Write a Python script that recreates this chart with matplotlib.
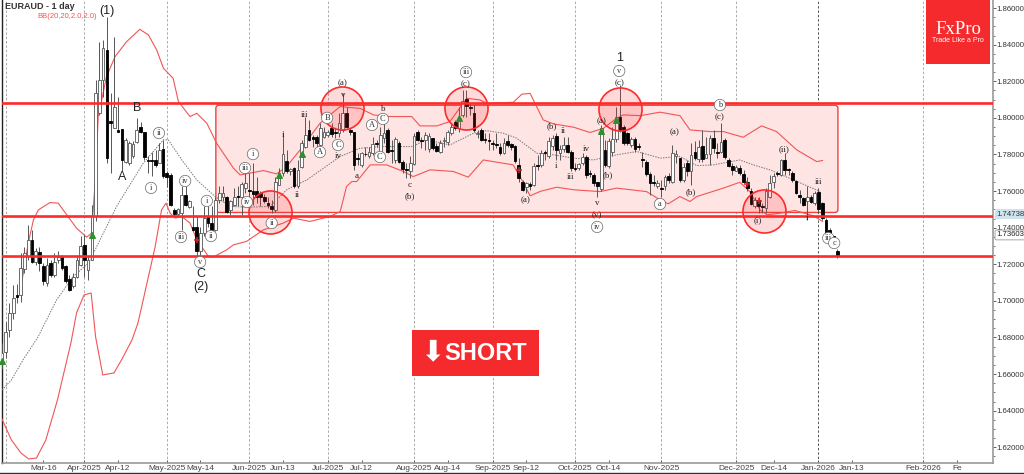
import matplotlib
matplotlib.use('Agg')
import matplotlib.pyplot as plt
from matplotlib.patches import FancyBboxPatch, Rectangle
from matplotlib.ticker import MultipleLocator, FixedLocator, FuncFormatter

# daily candles, EURAUD
bar_open = [
    1.6666,1.6722,1.684,1.6933,1.7032,1.7033,1.7173,1.7243,1.7334,1.7215,
    1.7266,1.7193,1.7097,1.7206,1.7143,1.7224,1.7243,1.7188,1.7119,1.7079,
    1.7133,1.7197,1.7306,1.717,1.7224,1.7461,1.8025,1.8207,1.8371,1.7985,
    1.7943,1.7934,1.7938,1.7761,1.7752,1.7789,1.787,1.7952,1.7921,1.777,
    1.7766,1.777,1.7752,1.783,1.7698,1.7689,1.7497,1.7475,1.7479,1.7579,
    1.7512,1.7401,1.7403,1.727,1.737,1.7461,1.7428,1.7388,1.7552,1.757,
    1.7567,1.7497,1.7525,1.7574,1.757,1.7616,1.7607,1.7598,1.7598,1.7588,
    1.757,1.7534,1.7521,1.7497,1.7634,1.7698,1.7765,1.7707,1.7725,1.7625,
    1.7734,1.7843,1.7934,1.7893,1.7898,1.7852,1.7898,1.7907,1.7943,1.7925,
    1.7916,1.7934,1.8025,1.7934,1.792,1.778,1.7743,1.7805,1.7789,1.7807,
    1.7864,1.7816,1.7889,1.7934,1.7824,1.777,1.7861,1.7761,1.7718,1.7712,
    1.7749,1.792,1.7878,1.788,1.7829,1.7889,1.7847,1.7816,1.7874,1.787,
    1.7916,1.798,1.7943,1.8016,1.8102,1.8062,1.8025,1.7914,1.7934,1.7884,
    1.7877,1.786,1.7854,1.7843,1.7807,1.7876,1.7856,1.7847,1.7743,1.7647,
    1.7621,1.7636,1.7634,1.774,1.7743,1.7808,1.7789,1.7847,1.7901,1.7807,
    1.7829,1.7852,1.7816,1.7726,1.7725,1.7756,1.7785,1.7695,1.7689,1.7647,
    1.761,1.7825,1.7738,1.7816,1.7883,1.8002,1.7949,1.7916,1.7852,1.7883,
    1.7843,1.777,1.7761,1.7694,1.7647,1.7625,1.7611,1.7625,1.7683,1.7652,
    1.7792,1.778,1.7661,1.7752,1.7707,1.7816,1.7774,1.7847,1.778,1.7803,
    1.7889,1.7809,1.7816,1.788,1.777,1.7738,1.7712,1.7725,1.7694,1.7652,
    1.7603,1.7519,1.7552,1.7514,1.7507,1.757,1.7647,1.7698,1.7688,1.777,
    1.7717,1.7698,1.7657,1.7579,1.7561,1.7543,1.7567,1.7534,1.7597,1.7534,
    1.7443,1.7388,1.7352,1.727]
bar_close = [
    1.6715,1.6831,1.6933,1.7015,1.7021,1.7179,1.7261,1.7334,1.7215,1.727,
    1.7206,1.7106,1.7197,1.7143,1.7215,1.7237,1.7179,1.7106,1.7061,1.7133,
    1.7224,1.7301,1.7224,1.7224,1.7461,1.8138,1.8207,1.838,1.7779,1.797,
    1.8062,1.7925,1.7767,1.788,1.7861,1.7858,1.7934,1.792,1.7785,1.7763,
    1.7762,1.774,1.7825,1.768,1.7676,1.7525,1.7475,1.7501,1.7576,1.7525,
    1.7543,1.7388,1.727,1.737,1.7452,1.7428,1.7388,1.7552,1.7588,1.7592,
    1.7488,1.7543,1.757,1.7567,1.7639,1.7643,1.7598,1.7585,1.757,1.757,
    1.7547,1.7525,1.7501,1.7652,1.7698,1.7803,1.7707,1.772,1.7625,1.7716,
    1.7861,1.7907,1.788,1.7885,1.7861,1.7943,1.7925,1.7925,1.791,1.7916,
    1.797,1.8025,1.7949,1.792,1.7743,1.7775,1.7807,1.78,1.7816,1.7858,
    1.7858,1.7907,1.7916,1.7816,1.7818,1.7883,1.7761,1.772,1.7714,1.7752,
    1.7901,1.788,1.7874,1.7907,1.7901,1.7834,1.7821,1.7865,1.7878,1.7925,
    1.7949,1.7943,1.8007,1.8094,1.8065,1.8053,1.7934,1.7918,1.788,1.788,
    1.7874,1.7857,1.785,1.7807,1.7865,1.7852,1.7838,1.7765,1.767,1.7607,
    1.7643,1.763,1.7738,1.7736,1.781,1.7806,1.7876,1.7889,1.7825,1.7829,
    1.7852,1.7816,1.7725,1.7723,1.7749,1.7788,1.7689,1.7691,1.7643,1.7625,
    1.7943,1.7743,1.7876,1.7883,1.8007,1.7934,1.7861,1.7861,1.7883,1.7829,
    1.7841,1.7768,1.7694,1.7643,1.7645,1.7643,1.7609,1.7679,1.7658,1.7807,
    1.7803,1.7661,1.7734,1.7707,1.7798,1.778,1.7843,1.7774,1.7803,1.7889,
    1.7834,1.7807,1.787,1.7785,1.7738,1.7716,1.7729,1.7698,1.7652,1.7616,
    1.753,1.7552,1.7519,1.7512,1.7601,1.7643,1.7683,1.7695,1.7767,1.7716,
    1.7714,1.7661,1.7588,1.7567,1.7525,1.757,1.7539,1.7588,1.7503,1.7452,
    1.737,1.7352,1.7325,1.7246]
bar_high = [
    1.677,1.6886,1.699,1.7087,1.709,1.726,1.7297,1.7416,1.7388,1.7288,
    1.7297,1.7206,1.7234,1.7224,1.7261,1.727,1.7252,1.7197,1.7143,1.7152,
    1.7243,1.7352,1.7361,1.7243,1.7525,1.8207,1.8417,1.8426,1.8553,1.8134,
    1.8444,1.8116,1.7938,1.7889,1.7871,1.7871,1.7998,1.798,1.7925,1.7789,
    1.7816,1.7825,1.7861,1.788,1.7707,1.7698,1.7507,1.7507,1.7625,1.7625,
    1.7552,1.7516,1.7461,1.7406,1.7516,1.7516,1.7516,1.757,1.7625,1.7625,
    1.7574,1.7552,1.7616,1.7625,1.7652,1.7752,1.7698,1.7752,1.7679,1.7598,
    1.7585,1.757,1.7552,1.7679,1.7725,1.7925,1.7825,1.7725,1.7734,1.777,
    1.788,1.8007,1.7989,1.7907,1.7907,1.797,1.7952,1.7934,1.797,1.7943,
    1.8025,1.8134,1.8062,1.7943,1.7925,1.7807,1.7816,1.7843,1.7843,1.7898,
    1.788,1.7952,1.8,1.7943,1.788,1.7898,1.7871,1.777,1.7752,1.7789,
    1.7916,1.7934,1.7898,1.7925,1.7916,1.7889,1.7861,1.788,1.7898,1.7934,
    1.797,1.7989,1.8062,1.8153,1.8153,1.808,1.8071,1.7934,1.7943,1.7916,
    1.7916,1.788,1.7916,1.7861,1.7889,1.7907,1.7861,1.7852,1.778,1.7661,
    1.7652,1.7652,1.7752,1.7798,1.7825,1.7825,1.7898,1.7907,1.7916,1.7852,
    1.7898,1.7898,1.7825,1.7752,1.7756,1.7807,1.7798,1.7716,1.7698,1.7652,
    1.7962,1.788,1.7889,1.7952,1.8062,1.818,1.7961,1.7925,1.7898,1.7898,
    1.7861,1.7816,1.777,1.7702,1.7689,1.7661,1.7661,1.7689,1.7698,1.7852,
    1.7825,1.778,1.7752,1.777,1.7861,1.7871,1.788,1.7934,1.7898,1.7907,
    1.7934,1.7861,1.7974,1.7889,1.778,1.7752,1.7743,1.7743,1.7716,1.7679,
    1.7616,1.757,1.757,1.7534,1.7616,1.7689,1.7698,1.7712,1.7774,1.7807,
    1.7725,1.7707,1.7661,1.7607,1.757,1.7625,1.7579,1.7598,1.7616,1.7538,
    1.7452,1.7397,1.736,1.7283]
bar_low = [
    1.663,1.669,1.68,1.69,1.699,1.6995,1.7152,1.7224,1.7206,1.7197,
    1.7161,1.7088,1.7082,1.7133,1.7133,1.7206,1.717,1.7097,1.7052,1.707,
    1.7124,1.7188,1.7133,1.7115,1.7224,1.7434,1.8016,1.8116,1.7752,1.7698,
    1.7943,1.7925,1.7707,1.7752,1.7743,1.778,1.7861,1.7916,1.777,1.7698,
    1.768,1.7734,1.7752,1.767,1.762,1.7516,1.7461,1.7461,1.7388,1.7516,
    1.7507,1.7379,1.7243,1.7252,1.7352,1.7406,1.7379,1.7379,1.7534,1.7543,
    1.7479,1.747,1.7519,1.7516,1.747,1.7588,1.7552,1.7525,1.7534,1.7516,
    1.7534,1.7507,1.7479,1.7488,1.7634,1.768,1.7698,1.7689,1.7616,1.7616,
    1.7725,1.7834,1.7871,1.7843,1.7843,1.7843,1.7889,1.7898,1.7898,1.7889,
    1.7898,1.7925,1.7943,1.7907,1.7716,1.7743,1.7734,1.7789,1.778,1.7798,
    1.7843,1.7807,1.7861,1.7807,1.7752,1.7752,1.7752,1.7698,1.767,1.767,
    1.7743,1.7871,1.7834,1.7825,1.7816,1.7825,1.7816,1.7807,1.7843,1.7852,
    1.7907,1.7934,1.7925,1.8007,1.8007,1.8016,1.7925,1.7889,1.7871,1.7861,
    1.7825,1.7825,1.7834,1.7798,1.7803,1.7843,1.7825,1.7752,1.7652,1.7598,
    1.7588,1.7607,1.7625,1.7716,1.7734,1.777,1.778,1.7825,1.777,1.777,
    1.7816,1.7807,1.7707,1.7707,1.7716,1.7743,1.767,1.7679,1.7625,1.757,
    1.7603,1.7734,1.7725,1.7789,1.787,1.7925,1.7852,1.7852,1.7843,1.7816,
    1.7825,1.7734,1.768,1.7579,1.7625,1.7616,1.757,1.7607,1.7643,1.7643,
    1.7752,1.7652,1.7652,1.768,1.7634,1.777,1.7761,1.7761,1.778,1.7743,
    1.7807,1.778,1.7807,1.7774,1.773,1.7689,1.7707,1.7689,1.7643,1.7598,
    1.7525,1.7507,1.7479,1.7479,1.7479,1.7561,1.7616,1.7683,1.7683,1.7689,
    1.7689,1.7652,1.7585,1.7534,1.7519,1.7443,1.7534,1.7525,1.7479,1.7443,
    1.7361,1.7343,1.731,1.7233]

upper_x = [4.8,7,8.4,9.7,12.8,15,17.3,19.9,22.6,23.9,24.8,25.7,27.9,30.2,33.3,36.8,39.1,41.3,43.1,45.7,47.1,50.2,52,54.7,57.3,61.8,63.6,66.2,69.8,73.3,76,79.6,84.9,90.3,
           92,95.6,99.2,103.6,109.4,111.6,116.1,119.6,124.1,127.6,129.4,136.5,138.8,141,144.5,147.2,152.6,157,160.6,164.1,165.9,170.4,175.7,181,
           183.7,189,192.6,197.9,202.8,206.8,212.2,217.5,219.1]
upper_y = [1.7042,1.7315,1.7443,1.7497,1.7537,1.7534,1.747,1.7397,1.7348,1.737,1.7625,1.8007,1.8225,1.8335,1.8417,1.8484,1.8453,1.8371,1.8271,1.8216,1.8089,1.8007,1.8025,1.797,1.7861,1.7725,1.7688,1.7698,1.7712,1.7694,1.7734,1.7825,1.797,1.8062,
           1.8058,1.8052,1.8016,1.8007,1.8007,1.7956,1.7956,1.798,1.8107,1.8098,1.808,1.8085,1.8129,1.8134,1.7989,1.7967,1.7949,1.792,1.7943,1.7998,1.8016,1.8012,1.8031,1.8012,
           1.7934,1.7925,1.7925,1.7894,1.7956,1.7925,1.7825,1.7761,1.7767]
lower_x = [0,2.5,5.1,7.1,9.2,11.7,14.8,18.4,19.9,21.9,23.8,25,26.9,29.9,32.2,34.7,36.3,37.7,40.9,42.6,43.8,44.9,46.2,48,50.2,52,55.1,56.4,60,61.8,65.3,69.8,75.1,77.8,82.2,87.6,90.3,
           92,93.4,94.7,98.3,102.7,107.2,109.8,114.3,120.5,124.5,128.5,136.5,138.8,141,143.7,148.1,152.6,159.7,164.1,172.1,175.7,177.9,181,
           183.7,185.5,192.6,197,199.7,202.4,204.3,207.7,211.7,216.6,219.1]
lower_y = [1.6354,1.624,1.6168,1.6136,1.6141,1.624,1.6458,1.677,1.6934,1.7032,1.7043,1.6802,1.6595,1.6606,1.6688,1.6786,1.6879,1.7005,1.7297,1.7497,1.7534,1.7479,1.7452,1.7461,1.7425,1.7334,1.7243,1.7239,1.7279,1.7306,1.7325,1.7388,1.7425,1.7452,1.7434,1.7461,1.7488,
           1.7625,1.7652,1.7652,1.7743,1.7743,1.7707,1.7679,1.7716,1.7707,1.7676,1.777,1.7743,1.7661,1.7574,1.7598,1.7621,1.7607,1.7597,1.7616,1.7597,1.7552,1.753,1.757,
           1.7543,1.757,1.7616,1.7648,1.7597,1.7497,1.747,1.7479,1.7494,1.7465,1.7434]
mid_x = [0,2.5,5.6,9.6,14.6,19,23.1,26.2,30.6,37.7,43.1,44.4,48,52,56.9,60.9,66.2,71.6,76,81.4,90.3,
         95.6,101.8,109.4,113.4,119.6,125.9,129.4,133.9,137.4,142.8,147.2,152.6,157.9,164.1,169.5,175.7,181,
         185.5,189.9,197,200.6,205,211.3,218.4]
mid_y = [1.6513,1.6567,1.6677,1.6802,1.7006,1.7133,1.7206,1.7334,1.7516,1.7752,1.788,1.788,1.777,1.7661,1.757,1.7516,1.7512,1.7516,1.7607,1.7661,1.7789,
         1.7834,1.7843,1.7843,1.788,1.7852,1.7916,1.793,1.7916,1.7889,1.7807,1.7798,1.778,1.777,1.7798,1.7816,1.778,1.7789,
         1.7739,1.7743,1.777,1.7743,1.7716,1.7661,1.7598]

levels = [1.8081, 1.7466, 1.7245]
box_bars = [57.1, 223.2]
box_prices = [1.7483, 1.8069]
circle_x = [71.6, 90.8, 123.9, 165, 203.5]
circle_y = [1.7486, 1.8054, 1.8054, 1.8048, 1.7491]
up_x = [0, 24, 74, 80, 122, 160, 164]
up_y = [1.6672, 1.7360, 1.7686, 1.7800, 1.7998, 1.7926, 1.7990]
cross_x = [52, 138, 199, 202]
cross_y = [1.7330, 1.7716, 1.7640, 1.7543]

tick_bars = [11, 22, 31, 44, 53, 66, 75, 87, 96, 110, 119, 131, 140, 153, 162, 176, 196, 206, 218, 227, 246, 255]
tick_text = ['Mar-16', 'Apr-2025', 'Apr-12', 'May-2025', 'May-14', 'Jun-2025', 'Jun-13', 'Jul-2025', 'Jul-12',
             'Aug-2025', 'Aug-14', 'Sep-2025', 'Sep-12', 'Oct-2025', 'Oct-14', 'Nov-2025', 'Dec-2025', 'Dec-14',
             'Jan-2026', 'Jan-13', 'Feb-2026', 'Fe']
month_bars = [1, 22, 44, 66, 87, 110, 131, 153, 176, 196, 218, 246]

big_labels = [(28, 1.8584, '(1)'), (36, 1.8054, 'B'), (32, 1.7677, 'A'), (53, 1.7147, 'C'), (53, 1.7076, '(2)'), (164.8, 1.8327, '1')]
circled_labels = [
    (41.9, 1.7917, 'ii'), (39.8, 1.7617, 'i'), (48.9, 1.7655, 'iv'), (47.8, 1.7349, 'iii'), (54.7, 1.7546, 'i'),
    (55.8, 1.7354, 'ii'), (52.9, 1.7212, 'v'), (64.9, 1.7726, 'iii'), (67, 1.7802, 'i'), (65.4, 1.754, 'iv'),
    (72, 1.7425, 'ii'), (84.9, 1.7813, 'A'), (86.8, 1.8, 'B'), (89.7, 1.7852, 'C'), (98.8, 1.7961, 'A'),
    (101.7, 1.7994, 'C'), (100.9, 1.7786, 'C'), (123.9, 1.825, 'iii'), (158.9, 1.7404, 'iv'), (164.8, 1.8256, 'v'),
    (175.7, 1.7529, 'a'), (191.7, 1.807, 'b'), (220.6, 1.7343, 'iii'), (222.2, 1.7316, 'c')]
plain_labels = [
    (75, 1.7906, 'i'), (80.9, 1.8016, 'iii'), (78.8, 1.7578, 'ii'), (89.7, 1.7792, 'iv'), (91, 1.819, '(a)'),
    (91, 1.8125, 'v'), (94.8, 1.7682, 'a'), (101.7, 1.8048, 'b'), (108.9, 1.7633, 'c'), (108.9, 1.7573, '(b)'),
    (123.9, 1.8185, '(c)'), (139.9, 1.7551, '(a)'), (146.9, 1.7955, '(b)'), (149.8, 1.7928, 'ii'), (147.9, 1.7737, 'i'),
    (151.9, 1.7677, 'iii'), (155.9, 1.783, 'iv'), (158.9, 1.7535, 'v'), (158.9, 1.7469, '(v)'), (160, 1.7983, '(a)'),
    (161.8, 1.7688, '(b)'), (164.8, 1.819, '(c)'), (179.7, 1.7923, '(a)'), (191.7, 1.8005, '(c)'), (184, 1.7595, '(b)'),
    (201.9, 1.7442, '(i)'), (208.8, 1.783, '(ii)'), (217.9, 1.7649, 'iii'), (214.9, 1.7453, 'i')]

RED = '#FF2B2B'
W, H = 1024, 474
fig = plt.figure(figsize=(W / 100, H / 100), dpi=100)
plt.rcParams['font.family'] = ['Liberation Sans', 'DejaVu Sans']
ax = fig.add_axes([2 / W, 1 - 463 / H, (993 - 2) / W, 463 / H])
ax.set_xlim(0, 264.6)
ax.set_ylim(1.8644 - 463 / 1830, 1.8644)

for b in month_bars:
    dark = b == 218
    ax.axvline(b, color='#555555' if dark else '#aaaaaa', lw=0.7, ls=(0, (2.5, 2)), zorder=1)

ax.add_patch(FancyBboxPatch((box_bars[0], box_prices[0]), box_bars[1] - box_bars[0], box_prices[1] - box_prices[0],
                            boxstyle='round,pad=0,rounding_size=0.8', mutation_aspect=3.745 / 1830,
                            fc='#FFE4E4', ec='#F04040', lw=1.0, zorder=2))

ax.plot(upper_x, upper_y, color='#F25555', lw=0.8, zorder=3)
ax.plot(lower_x, lower_y, color='#F25555', lw=0.8, zorder=3)
ax.plot(mid_x, mid_y, color='#777777', lw=0.7, ls=(0, (1.5, 1.2)), zorder=3)

# candles
for i in range(len(bar_open)):
    o, h, l, c = bar_open[i], bar_high[i], bar_low[i], bar_close[i]
    bull = c >= o
    ax.vlines(i, l, h, color='#555555', lw=0.7, zorder=4)
    body = max(abs(c - o), 0.0005)
    ax.bar(i, body, bottom=min(o, c), width=0.72, color='white' if bull else 'black',
           edgecolor='#555555' if bull else 'black', linewidth=0.6, zorder=5)

for lv in levels:
    ax.axhline(lv, color=RED, lw=1.9, zorder=6)

ax.scatter(circle_x, circle_y, s=31 ** 2, facecolor=(1, 0.15, 0.15, 0.17), edgecolor=RED, linewidth=1.2, zorder=7)
ax.scatter(up_x, up_y, marker='^', s=16, color='#2F8F2F', zorder=8, clip_on=False)
ax.scatter(cross_x, cross_y, marker='+', s=18, color='#D02828', linewidth=1.1, zorder=8)

for x, y, s in big_labels:
    ax.text(x, y, s, ha='center', va='center', fontsize=9, color='#222222', zorder=9)
for x, y, s in plain_labels:
    ax.text(x, y, s, ha='center', va='center', fontsize=6.5, family='Liberation Serif', color='#222222', zorder=9)
for x, y, s in circled_labels:
    ax.text(x, y, s, ha='center', va='center', fontsize=6, family='Liberation Serif', color='#333333', zorder=9,
            bbox=dict(boxstyle='circle,pad=0.2', fc='white', ec='#666666', lw=0.5))

# axes
ax.spines['top'].set_visible(False)
ax.spines['left'].set_color('#222222')
ax.spines['left'].set_linewidth(1.0)
ax.spines['right'].set_color('#999999')
ax.spines['right'].set_linewidth(1.2)
ax.spines['bottom'].set_color('#999999')
ax.spines['bottom'].set_linewidth(1.2)
ax.yaxis.tick_right()
ax.yaxis.set_major_locator(MultipleLocator(0.02))
ax.yaxis.set_minor_locator(MultipleLocator(0.005))
ax.yaxis.set_major_formatter(FuncFormatter(lambda v, _: '%.5f' % v))
ax.tick_params(axis='y', which='major', length=2, width=0.6, color='#444444', labelsize=5.6, pad=0.5, labelcolor='#333333')
ax.tick_params(axis='y', which='minor', length=1.2, width=0.5, color='#444444')
ax.xaxis.set_major_locator(FixedLocator(tick_bars))
ax.set_xticklabels(tick_text)
ax.tick_params(axis='x', direction='in', length=2.5, width=0.6, color='#444444', labelsize=6, pad=1.5, labelcolor='#444444')

trans = ax.get_yaxis_transform()
ax.text(1.0035, 1.7474, '1.74738', transform=trans, va='center', ha='left', fontsize=5.6, color='#333333', zorder=10,
        bbox=dict(boxstyle='square,pad=0.18', fc='#CFE3EE', ec='none'), clip_on=False)
ax.text(1.0035, 1.7360, '1.73603', transform=trans, va='center', ha='left', fontsize=5.6, color='#222222', zorder=10,
        bbox=dict(boxstyle='round,pad=0.18', fc='white', ec='#999999', lw=0.6), clip_on=False)

fig.text(5 / W, 1 - 6.5 / H, 'EURAUD - 1 day', fontsize=6.5, fontweight='bold', color='#333333', va='center')
fig.text(37 / W, 1 - 16 / H, 'BB(20,20,2.0,2.0)', fontsize=5.5, color='#F25555', va='center')


def box(x0, y0, x1, y1, color):
    fig.add_artist(Rectangle((x0 / W, 1 - y1 / H), (x1 - x0) / W, (y1 - y0) / H, transform=fig.transFigure,
                             fc=color, ec='none', zorder=20))


# logo and banner
box(926, 0, 990, 64, '#F52A2D')
fig.text(958 / W, 1 - 29 / H, 'FxPro', fontsize=13.5, family='Liberation Serif', color='white', ha='center', va='center', zorder=21)
fig.text(958 / W, 1 - 41 / H, 'Trade Like a Pro', fontsize=5, color='white', ha='center', va='center', zorder=21)
box(412, 330, 539, 376, '#F52A2D')
fig.text(432.5 / W, 1 - 352 / H, '\u2b07', fontsize=21, family='DejaVu Sans', color='white', ha='center', va='center', zorder=21)
fig.text(486 / W, 1 - 353 / H, 'SHORT', fontsize=17, fontweight='bold', color='white', ha='center', va='center', zorder=21)

# outer frame
fig.add_artist(plt.Line2D([0, 1], [1.5 / H, 1.5 / H], color='#333333', lw=1, transform=fig.transFigure))

fig.savefig('out.png', dpi=100)
